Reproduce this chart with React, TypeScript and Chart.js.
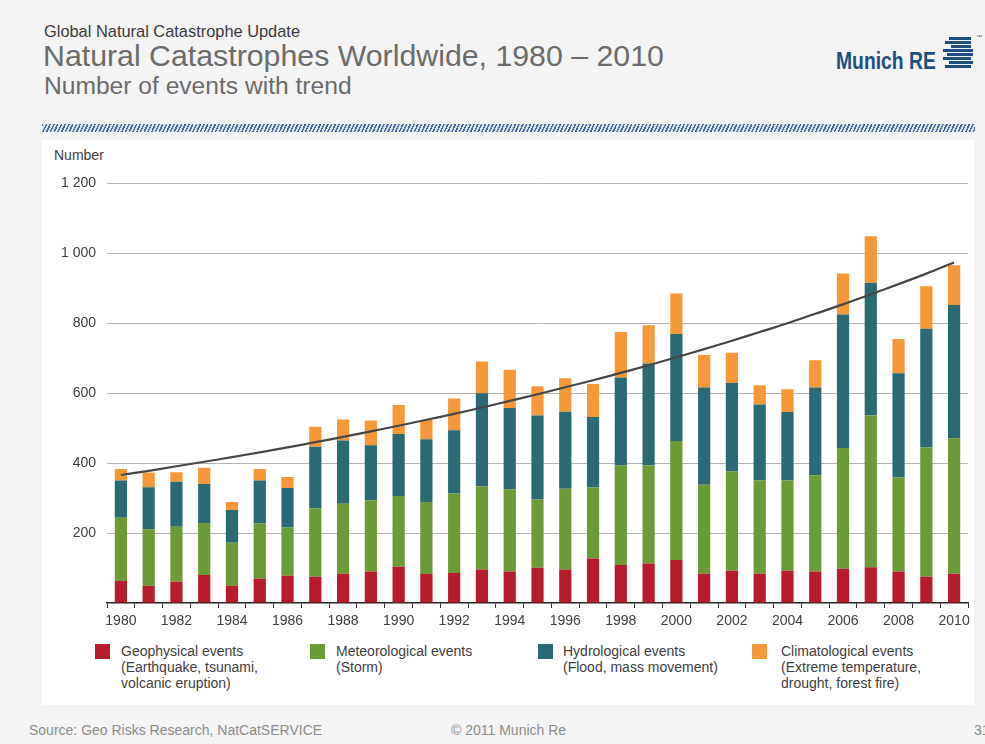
import React, { useEffect, useRef } from "react";
import { Chart, registerables } from "chart.js";

Chart.register(...registerables);

const YEARS = [
  "1980", "1981", "1982", "1983", "1984", "1985", "1986", "1987", "1988", "1989",
  "1990", "1991", "1992", "1993", "1994", "1995", "1996", "1997", "1998", "1999",
  "2000", "2001", "2002", "2003", "2004", "2005", "2006", "2007", "2008", "2009", "2010",
];

const GEOPHYSICAL = [63, 49, 61, 80, 49, 70, 78, 75, 84, 90, 104, 83, 86, 96, 90, 101, 96, 127, 109, 113, 123, 84, 93, 84, 93, 90, 98, 102, 90, 75, 84];
const METEOROLOGICAL = [181, 162, 157, 149, 123, 158, 138, 196, 200, 204, 202, 206, 227, 237, 235, 195, 231, 203, 285, 281, 340, 254, 284, 267, 257, 275, 345, 434, 269, 370, 387];
const HYDROLOGICAL = [106, 120, 129, 111, 94, 122, 113, 176, 181, 157, 177, 179, 181, 267, 233, 240, 220, 202, 251, 291, 306, 278, 252, 217, 196, 251, 382, 380, 298, 339, 381];
const CLIMATOLOGICAL = [33, 42, 27, 47, 23, 33, 31, 57, 60, 71, 83, 55, 91, 91, 109, 84, 96, 94, 130, 109, 116, 93, 87, 55, 65, 78, 117, 133, 98, 122, 114];
const TREND = [366, 378, 391, 404, 417, 431, 445, 460, 475, 491, 507, 524, 541, 559, 578, 597, 617, 637, 658, 680, 703, 726, 750, 775, 800, 827, 854, 883, 912, 942, 974];

const SERIES_LABELS = ["Geophysical events", "Meteorological events", "Hydrological events", "Climatological events"];
const SERIES_COLORS = ["#b71c2c", "#6b9a37", "#2b6a73", "#f4983a"];
const LEGEND_LINES = [
  ["Geophysical events", "(Earthquake, tsunami,", "volcanic eruption)"],
  ["Meteorological events", "(Storm)"],
  ["Hydrological events", "(Flood, mass movement)"],
  ["Climatological events", "(Extreme temperature,", "drought, forest fire)"],
];
const Y_TICKS = [0, 200, 400, 600, 800, 1000, 1200];

const FONT = '"Liberation Sans", Arial, Helvetica, sans-serif';

const LEGEND_SQUARE_X = [95, 310, 538, 752];
const LEGEND_TEXT_X = [121, 336, 563, 781];

const LOGO_BARS = [
  { l: 6, w: 22 },
  { l: 2, w: 26 },
  { l: 8, w: 20 },
  { l: 0, w: 30 },
  { l: 4, w: 26 },
  { l: 0, w: 28 },
  { l: 6, w: 24 },
  { l: 2, w: 26 },
];

export default function App() {
  const ref = useRef<HTMLCanvasElement>(null);

  useEffect(() => {
    if (!ref.current) return;
    const series = [GEOPHYSICAL, METEOROLOGICAL, HYDROLOGICAL, CLIMATOLOGICAL];
    const chart = new Chart(ref.current, {
      type: "bar",
      data: {
        labels: YEARS,
        datasets: [
          {
            type: "line",
            label: "Trend",
            data: TREND,
            borderColor: "#474747",
            borderWidth: 2.2,
            pointRadius: 0,
            tension: 0.4,
            fill: false,
            stack: "trend",
            order: 1,
          } as any,
          ...series.map((d, i) => ({
            type: "bar",
            label: SERIES_LABELS[i],
            data: d,
            backgroundColor: SERIES_COLORS[i],
            borderWidth: 0,
            stack: "events",
            order: 2,
            barPercentage: 0.44,
            categoryPercentage: 1,
          })),
        ],
      },
      options: {
        responsive: false,
        animation: false,
        devicePixelRatio: 1,
        layout: { padding: { top: 13, right: 7, left: 0, bottom: 0 } },
        plugins: {
          legend: { display: false },
          tooltip: { enabled: false },
        },
        scales: {
          x: {
            stacked: true,
            offset: true,
            grid: {
              display: true,
              drawOnChartArea: false,
              drawTicks: true,
              tickLength: 5,
              color: "#333333",
              offset: true,
            },
            border: { display: true, color: "#222222", width: 1.5 },
            ticks: {
              autoSkip: false,
              maxRotation: 0,
              padding: 5,
              color: "#404040",
              font: { family: FONT, size: 14 },
              callback: (_v: any, i: number) => (i % 2 === 0 ? YEARS[i] : ""),
            },
            afterFit: (s: any) => {
              s.height = 37;
            },
          },
          y: {
            stacked: true,
            min: Y_TICKS[0],
            max: Y_TICKS[Y_TICKS.length - 1],
            ticks: {
              stepSize: 200,
              padding: 11,
              color: "#404040",
              font: { family: FONT, size: 14 },
              callback: (v: any) => {
                const n = Number(v);
                if (n === 0) return "";
                const s = String(n);
                return s.length > 3 ? s.slice(0, s.length - 3) + " " + s.slice(-3) : s;
              },
            },
            grid: {
              color: (ctx: any) => (ctx.tick && ctx.tick.value === 0 ? "rgba(0,0,0,0)" : "#b4b4b4"),
              drawTicks: false,
              lineWidth: 1,
            },
            border: { display: false },
            afterFit: (s: any) => {
              s.width = 65;
            },
          },
        },
      } as any,
    });
    return () => chart.destroy();
  }, []);

  const abs = (style: React.CSSProperties): React.CSSProperties => ({
    position: "absolute",
    whiteSpace: "nowrap",
    fontFamily: FONT,
    lineHeight: 1,
    ...style,
  });

  return (
    <div
      style={{
        position: "absolute",
        left: 0,
        top: 0,
        width: 985,
        height: 744,
        background: "#f4f4f4",
        overflow: "hidden",
        fontFamily: FONT,
      }}
    >
      <div style={abs({ left: 44, top: 23, fontSize: 16.4, color: "#3a3a3a" })}>Global Natural Catastrophe Update</div>
      <div style={abs({ left: 43, top: 41, fontSize: 30.3, color: "#6b6b6b" })}>
        Natural Catastrophes Worldwide, 1980 – 2010
      </div>
      <div style={abs({ left: 44, top: 74, fontSize: 24.6, color: "#6b6b6b" })}>Number of events with trend</div>

      {/* Logo */}
      <div
        style={abs({
          left: 836,
          top: 49.5,
          fontSize: 23,
          fontWeight: "bold",
          color: "#1e4f80",
          transform: "scaleX(0.84)",
          transformOrigin: "left top",
        })}
      >
        Munich RE
      </div>
      <div style={{ position: "absolute", left: 943, top: 37, width: 32, height: 32 }}>
        {LOGO_BARS.map((b, i) => (
          <div
            key={i}
            style={{
              position: "absolute",
              left: b.l,
              top: i * 4,
              width: b.w,
              height: 2.6,
              background: "#1e4f80",
            }}
          />
        ))}
      </div>
      <div style={abs({ left: 976, top: 34, fontSize: 6, color: "#1e4f80" })}>™</div>

      {/* Hatched band */}
      <div
        style={{
          position: "absolute",
          left: 42,
          top: 124,
          width: 933,
          height: 8,
          background:
            "repeating-linear-gradient(115deg, #4a6f9c 0px, #4a6f9c 1.5px, #dde4ee 1.5px, #dde4ee 3.4px)",
        }}
      />

      {/* White panel */}
      <div style={{ position: "absolute", left: 42, top: 140, width: 932, height: 565, background: "#ffffff" }} />

      <div style={abs({ left: 54, top: 147.5, fontSize: 14, color: "#404040" })}>Number</div>

      <canvas
        ref={ref}
        width={933}
        height={476}
        style={{ position: "absolute", left: 42, top: 164, width: 933, height: 476 }}
      />

      {/* Legend */}
      {LEGEND_LINES.map((lines, i) => (
        <React.Fragment key={i}>
          <div
            style={{
              position: "absolute",
              left: LEGEND_SQUARE_X[i],
              top: 644,
              width: 15,
              height: 15,
              background: SERIES_COLORS[i],
            }}
          />
          <div
            style={{
              position: "absolute",
              left: LEGEND_TEXT_X[i],
              top: 643,
              fontFamily: FONT,
              fontSize: 14,
              lineHeight: "16px",
              color: "#404040",
              whiteSpace: "nowrap",
            }}
          >
            {lines.map((l, j) => (
              <div key={j}>{l}</div>
            ))}
          </div>
        </React.Fragment>
      ))}

      {/* Footer */}
      <div style={abs({ left: 29, top: 723, fontSize: 14, color: "#8c8c8c" })}>
        Source: Geo Risks Research, NatCatSERVICE
      </div>
      <div style={abs({ left: 451, top: 723, fontSize: 14, color: "#8c8c8c" })}>© 2011 Munich Re</div>
      <div style={abs({ left: 974, top: 723, fontSize: 14, color: "#8c8c8c" })}>31</div>
    </div>
  );
}
